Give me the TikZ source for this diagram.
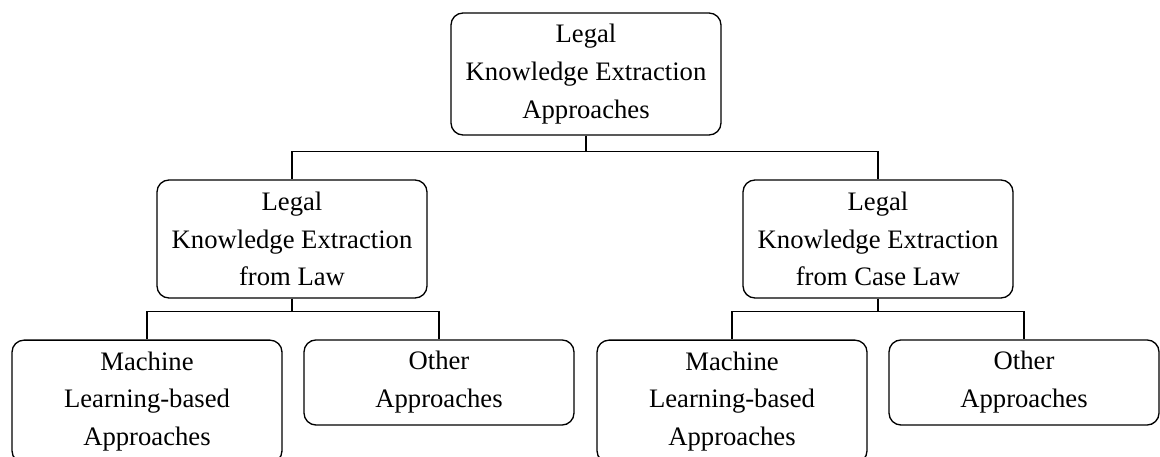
\documentclass[tikz,border=0pt]{standalone}
\usepackage{fontspec}
\setmainfont{Liberation Serif}
\begin{document}
\begin{tikzpicture}[x=0.375pt,y=-0.375pt,
  font=\fontsize{10}{14.2}\selectfont,
  every node/.style={align=center},
  box/.style={draw,rounded corners=4.5pt,line width=0.5pt,minimum width=101.25pt,inner sep=0pt},
  tallbox/.style={box,minimum height=44.25pt},
  shortbox/.style={box,minimum height=31.9pt}]

\useasboundingbox (0,0) rectangle (1160,457);

%draw boxes
\node[box,minimum height=45.75pt] (root) at (586,74) {Legal\\Knowledge Extraction\\Approaches};
\node[tallbox] (law) at (292,239) {Legal\\Knowledge Extraction\\from Law};
\node[tallbox] (caselaw) at (878,239) {Legal\\Knowledge Extraction\\from Case Law};
\node[tallbox,minimum height=46pt] (lawml) at (147,401.5) {Machine\\Learning-based\\Approaches};
\node[shortbox] (lawother) at (439,382.5) {Other\\Approaches};
\node[tallbox,minimum height=46pt] (caseml) at (732,401.5) {Machine\\Learning-based\\Approaches};
\node[shortbox] (caseother) at (1024,382.5) {Other\\Approaches};

%draw connectors
\foreach \parent/\child in {root/law, root/caselaw, law/lawml, law/lawother, caselaw/caseml, caselaw/caseother}
  \draw[line width=0.5pt] (\parent.south) |- ([yshift=10.5pt]\child.north) -- (\child.north);

\end{tikzpicture}
\end{document}
